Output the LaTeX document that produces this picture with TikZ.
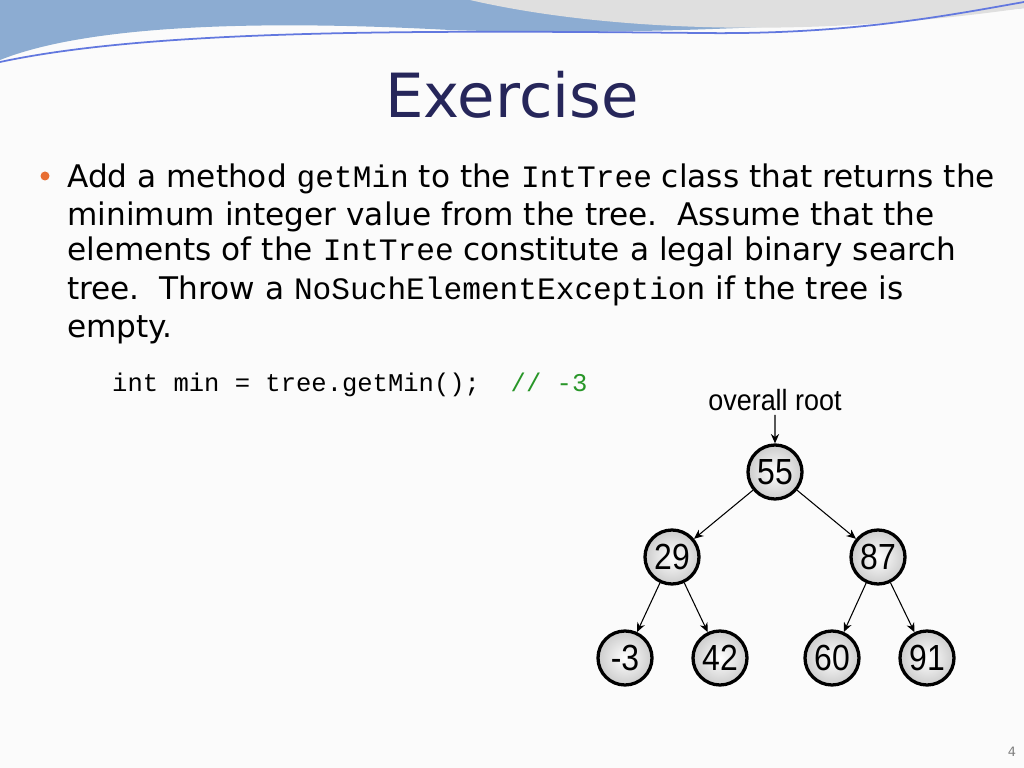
\documentclass[tikz,border=0pt]{standalone}
\usepackage{fontspec}
\setmainfont{DejaVu Sans}
\setmonofont{Liberation Mono}
\newfontfamily\treefont{Liberation Sans}
\usetikzlibrary{arrows.meta,positioning}
\definecolor{navy}{RGB}{38,38,90}
\definecolor{headblue}{RGB}{140,172,210}
\definecolor{bulletor}{RGB}{232,110,50}
\definecolor{cmtgreen}{RGB}{40,150,40}
\begin{document}
\begin{tikzpicture}[x=0.03cm,y=-0.03cm,% styles used in image code
         > = {Stealth[length=8pt,width=7pt]},
tnode/.style = {circle, draw=black, line width=2.8pt,
                inner color=white, outer color=gray!40,
                minimum size=1.62cm, inner sep=0pt,
                font=\treefont\fontsize{31}{31}\selectfont},
  line/.style = {anchor=base west, inner sep=0pt, font=\fontsize{26.6}{30}\selectfont},
  edge/.style = {->, line width=0.9pt}
                   ]
	\useasboundingbox (0,0) rectangle (1024,768);
	\fill[white!97!gray] (0,0) rectangle (1024,768);
	% header swoosh
	\fill[headblue] (0,0) -- (1024,0) -- (1024,8)
	  .. controls (800,30) and (600,35) .. (450,30)
	  .. controls (300,22) and (100,20) .. (0,60) -- cycle;
	\fill[gray!25] (470,0) .. controls (600,30) and (800,40) .. (1024,8) -- (1024,0) -- cycle;
	\draw[headblue!70!blue, line width=1.5pt] (0,62)
	  .. controls (150,30) and (400,30) .. (700,33)
	  .. controls (850,35) and (950,15) .. (1024,2);
	% title
	\node[font=\fontsize{52}{60}\selectfont, text=navy] (title) at (512,95) {Exercise};
	% bullet text
	\fill[bulletor] (45,176) circle (4.5);
	\node[line] (l1) at (67,188) {Add a method \texttt{getMin} to the \texttt{IntTree} class that returns the};
	\node[line] (l2) at (67,226) {minimum integer value from the tree.\ \ Assume that the};
	\node[line] (l3) at (67,261) {elements of the \texttt{IntTree} constitute a legal binary search};
	\node[line] (l4) at (67,300) {tree.\ \ Throw a \texttt{NoSuchElementException} if the tree is};
	\node[line] (l5) at (67,338) {empty.};
	% code
	\node[anchor=base west, inner sep=0pt, font=\ttfamily\fontsize{21.8}{24}\selectfont] (code) at (112,392)
	  {int min = tree.getMin();\ \ \textcolor{cmtgreen}{// -3}};
	% tree
	\node[font=\treefont\fontsize{25}{30}\selectfont, xscale=0.92] (root) at (775,400) {overall root};
	\node[tnode] (n55) at (775,472) {\scalebox{0.88}[1]{55}};
	\node[tnode] (n29) at (672,557) {\scalebox{0.88}[1]{29}};
	\node[tnode] (n87) at (878,557) {\scalebox{0.88}[1]{87}};
	\node[tnode] (n-3) at (625,658) {\scalebox{0.88}[1]{-3}};
	\node[tnode] (n42) at (720,658) {\scalebox{0.88}[1]{42}};
	\node[tnode] (n60) at (832,658) {\scalebox{0.88}[1]{60}};
	\node[tnode] (n91) at (927,658) {\scalebox{0.88}[1]{91}};
	\draw[edge] (root) -- (n55);
	\draw[edge] (n55) -- (n29);
	\draw[edge] (n55) -- (n87);
	\draw[edge] (n29) -- (n-3);
	\draw[edge] (n29) -- (n42);
	\draw[edge] (n87) -- (n60);
	\draw[edge] (n87) -- (n91);
	\node[font=\fontsize{11}{12}\selectfont, text=gray] (page) at (1012,752) {4};
\end{tikzpicture}
\end{document}
